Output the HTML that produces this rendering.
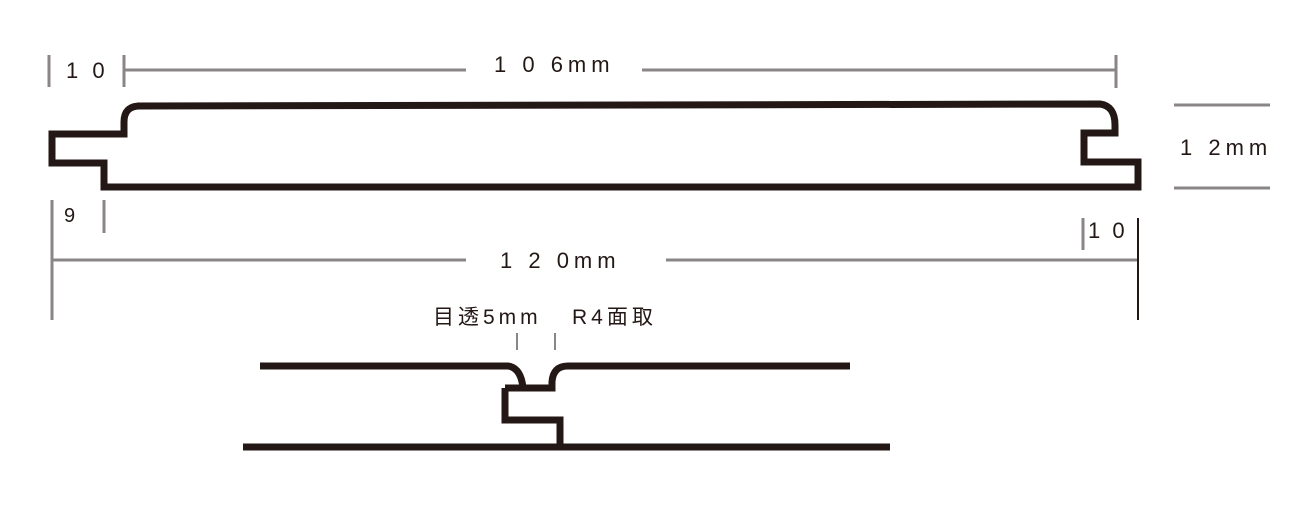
<!DOCTYPE html>
<html><head><meta charset="utf-8"><style>
html,body{margin:0;padding:0;background:#fff;}
svg{display:block;}
text{font-family:"Liberation Sans","Noto Sans CJK JP",sans-serif;fill:#231815;}
</style></head><body>
<svg width="1310" height="510" viewBox="0 0 1310 510">
<g stroke="#8a8586" stroke-width="3" fill="none">
<line x1="49" y1="55" x2="49" y2="87"/>
<line x1="124" y1="55" x2="124" y2="87"/>
<line x1="124" y1="70" x2="466" y2="70"/>
<line x1="642" y1="70" x2="1116" y2="70"/>
<line x1="1116" y1="55" x2="1116" y2="88"/>
<line x1="1174" y1="105" x2="1270" y2="105"/>
<line x1="1174" y1="188" x2="1270" y2="188"/>
<line x1="52" y1="200" x2="52" y2="320"/>
<line x1="104" y1="200" x2="104" y2="233"/>
<line x1="52" y1="260" x2="466" y2="260"/>
<line x1="666" y1="260" x2="1138" y2="260"/>
<line x1="1083" y1="218" x2="1083" y2="250"/>
<line x1="517" y1="333" x2="517" y2="350" stroke-width="2"/>
<line x1="555" y1="333" x2="555" y2="350" stroke-width="2"/>
</g>
<line x1="1138" y1="218" x2="1138" y2="320" stroke="#231815" stroke-width="2"/>
<g stroke="#231815" stroke-width="7" fill="none" stroke-linejoin="miter">
<path d="M137 106 L1100 104 Q1115 106 1115 125 L1115 133 L1084 133 L1084 162 L1138 162 L1138 187 L104 187 L104 163 L52 163 L52 134 L124 134 L124 122 Q124 106 140 106 Z"/>
<path d="M260 366 L508 366 Q521 368 523 388"/>
<path d="M505 388 L552 388 L552 382 Q553 366 568 366 L850 366"/>
<path d="M505 388 L505 420 L560 420 L560 447"/>
<path d="M243 447 L890 447"/>
</g>
<text x="66" y="78" font-size="22" letter-spacing="4">1 0</text>
<text x="494" y="72" font-size="22" letter-spacing="5">1 0 6mm</text>
<text x="64" y="222" font-size="20">9</text>
<text x="1088" y="238" font-size="22" letter-spacing="3">1 0</text>
<text x="1180" y="155" font-size="22" letter-spacing="5">1 2mm</text>
<text x="500" y="268" font-size="22" letter-spacing="5">1 2 0mm</text>
<text x="433" y="324" font-size="21" letter-spacing="4">目透5mm</text>
<text x="572" y="324" font-size="21" letter-spacing="4">R4面取</text>
</svg>
</body></html>
